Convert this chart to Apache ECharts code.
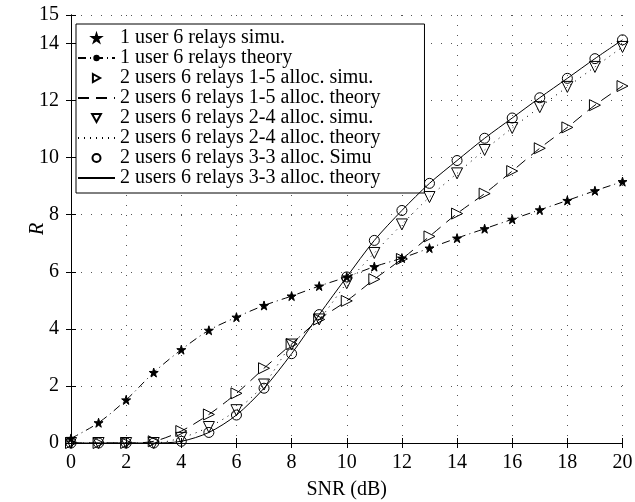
<!DOCTYPE html>
<html><head><meta charset="utf-8">
<script src="https://cdn.jsdelivr.net/npm/echarts@6/dist/echarts.min.js"></script>
<style>html,body{margin:0;padding:0;background:#fff}#c{width:635px;height:502px}</style>
</head><body><div id="c"></div>
<script>
const snr = [0,1,2,3,4,5,6,7,8,9,10,11,12,13,14,15,16,17,18,19,20];
const oneUserSimu   = [0.16,0.71,1.51,2.47,3.27,3.95,4.41,4.82,5.15,5.5,5.82,6.18,6.48,6.83,7.18,7.51,7.84,8.17,8.5,8.84,9.16];
const oneUserTheory = [0.16,0.71,1.51,2.47,3.27,3.95,4.41,4.82,5.15,5.5,5.82,6.18,6.48,6.83,7.18,7.51,7.84,8.17,8.5,8.84,9.16];
const alloc15Simu   = [0,0,0,0.06,0.42,1.0,1.74,2.62,3.47,4.33,4.98,5.74,6.45,7.24,8.04,8.74,9.53,10.33,11.06,11.84,12.51];
const alloc15Theory = [0,0,0,0.06,0.42,1.0,1.74,2.62,3.47,4.33,4.98,5.74,6.45,7.24,8.04,8.74,9.53,10.33,11.06,11.84,12.51];
const alloc24Simu   = [0,0,0,0,0.18,0.56,1.15,2.05,3.45,4.33,5.6,6.66,7.66,8.62,9.45,10.27,11.04,11.77,12.48,13.18,13.88];
const alloc24Theory = [0,0,0,0,0.18,0.56,1.15,2.05,3.45,4.33,5.6,6.66,7.66,8.62,9.45,10.27,11.04,11.77,12.48,13.18,13.88];
const alloc33Simu   = [0,0,0,0,0.06,0.37,0.98,1.92,3.13,4.5,5.82,7.1,8.15,9.1,9.9,10.68,11.39,12.1,12.78,13.47,14.13];
const alloc33Theory = [0,0,0,0,0.06,0.37,0.98,1.92,3.13,4.5,5.82,7.1,8.15,9.1,9.9,10.68,11.39,12.1,12.78,13.47,14.13];
const names = [
  '1 user 6 relays simu.',
  '1 user 6 relays theory',
  '2 users 6 relays 1-5 alloc. simu.',
  '2 users 6 relays 1-5 alloc. theory',
  '2 users 6 relays 2-4 alloc. simu.',
  '2 users 6 relays 2-4 alloc. theory',
  '2 users 6 relays 3-3 alloc. Simu',
  '2 users 6 relays 3-3 alloc. theory'
];

const FONT = 'Liberation Serif';
const star = 'path://M50,0 L61,35 L98,35 L68,57 L79,91 L50,70 L21,91 L32,57 L2,35 L39,35 Z';
const triRight = 'path://M0,0 L9,5 L0,10 Z';
const triDown = 'path://M0,0 L10,0 L5,9 Z';
const pairs = a => a.map((v,i)=>[snr[i], v]);

function simu(name, data, symbol, size){
  return {name, type:'scatter', data:pairs(data), symbol, symbolSize:size,
    itemStyle:{color: symbol===star?'#000':'rgba(0,0,0,0)', borderColor:'#000', borderWidth:1, opacity:1}, z:5};
}
function theory(name, data, type, dot){
  return {name, type:'line', data:pairs(data), smooth:0.3,
    symbol: dot?'circle':'none', symbolSize:3, showSymbol:!!dot,
    itemStyle:{color:'#000'},
    lineStyle:{color:'#000', width:1, type:type}, z:4};
}

const chart = echarts.init(document.getElementById('c'));
const axisCommon = {
  axisLine:{show:true, lineStyle:{color:'#000', width:1}},
  axisTick:{show:true, inside:true, length:5, lineStyle:{color:'#000'}},
};
const gridLine = {show:true, lineStyle:{color:'#555', width:1, type:[1,9]}};
chart.setOption({
  animation:false,
  backgroundColor:'#fff',
  textStyle:{fontFamily:FONT},
  grid:{left:71, right:12.5, top:15, bottom:59, containLabel:false, outerBoundsMode:'none'},
  xAxis:[
    Object.assign({type:'value', min:0, max:20, interval:2, position:'bottom',
      name:'SNR (dB)', nameLocation:'middle', nameGap:37,
      nameTextStyle:{fontFamily:FONT, fontSize:20, color:'#000'},
      axisLabel:{fontFamily:FONT, fontSize:20, color:'#000', margin:10},
      splitLine:gridLine}, axisCommon),
    Object.assign({type:'value', min:0, max:20, interval:2, position:'top',
      axisLabel:{show:false}, splitLine:{show:false}}, axisCommon)
  ],
  yAxis:[
    Object.assign({type:'value', min:0, max:15, interval:2, position:'left',
      name:'R', nameLocation:'middle', nameGap:23, nameRotate:90, nameMoveOverlap:false,
      nameTextStyle:{fontFamily:FONT, fontSize:20, fontStyle:'italic', color:'#000'},
      axisLabel:{fontFamily:FONT, fontSize:20, color:'#000', margin:12},
      splitLine:gridLine}, axisCommon),
    Object.assign({type:'value', min:0, max:15, interval:2, position:'right',
      axisLabel:{show:false}, splitLine:{show:false}}, axisCommon)
  ],
  legend:{
    show:true, orient:'vertical', left:76, top:24,
    data:[
      {name:names[0]},
      {name:names[1]},
      {name:names[2], icon:triRight},
      {name:names[3], itemStyle:{opacity:0}},
      {name:names[4], icon:triDown},
      {name:names[5], itemStyle:{opacity:0}},
      {name:names[6]},
      {name:names[7], itemStyle:{opacity:0}}
    ],
    itemWidth:37, itemHeight:8, itemGap:0,
    padding:[4,44,5,1],
    borderColor:'#000', borderWidth:1, backgroundColor:'#fff',
    textStyle:{fontFamily:FONT, fontSize:20, lineHeight:19.3, color:'#000'},
    selectedMode:false
  },
  series:[
    simu(names[0], oneUserSimu, star, 9),
    theory(names[1], oneUserTheory, [8,4,1,4], true),
    simu(names[2], alloc15Simu, triRight, 11),
    theory(names[3], alloc15Theory, [11,7], false),
    simu(names[4], alloc24Simu, triDown, 11),
    theory(names[5], alloc24Theory, [1,5], false),
    simu(names[6], alloc33Simu, 'circle', 10),
    theory(names[7], alloc33Theory, 'solid', false)
  ]
});
</script></body></html>
